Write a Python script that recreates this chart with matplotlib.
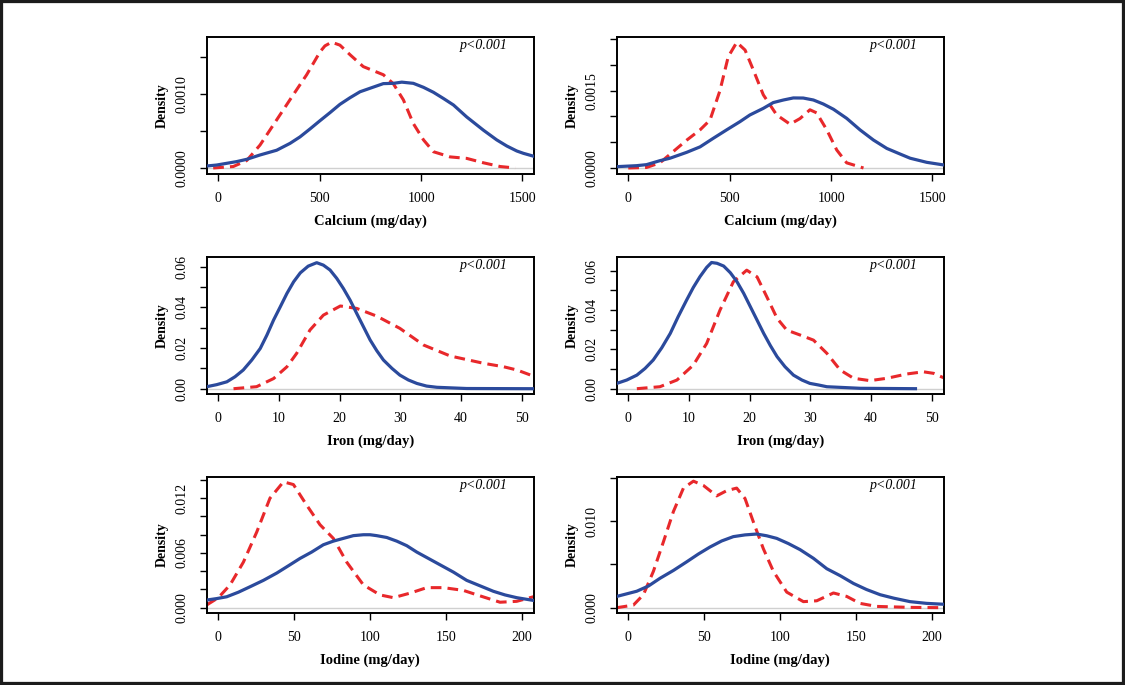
import numpy as np
import matplotlib.pyplot as plt
from matplotlib.patches import Rectangle

plt.rcParams['font.family'] = ['Liberation Serif', 'DejaVu Serif']

BLUE = '#2b4a9c'
RED = '#e8282b'

# Calcium, left panel
ca1_blue_x = [-57, -8, 41, 90, 140, 206, 288, 354, 403, 452, 502, 551, 600, 650, 699, 748, 814,
              864, 905, 962, 1012, 1061, 1110, 1160, 1225, 1308, 1373, 1423, 1472, 1505, 1554]
ca1_blue_y = [0.000027, 0.00004, 0.000063, 0.000086, 0.000117, 0.000176, 0.00024, 0.000333,
              0.00042, 0.000527, 0.00064, 0.000748, 0.00086, 0.00095, 0.00103, 0.001077, 0.00114,
              0.001144, 0.00116, 0.001144, 0.00109, 0.001023, 0.00094, 0.000851, 0.00069,
              0.00051, 0.00038, 0.000297, 0.00023, 0.000198, 0.00016]
ca1_red_x = [-25, 74, 140, 206, 288, 370, 436, 502, 526, 559, 600, 650, 715, 814, 863, 913, 962,
             1012, 1061, 1143, 1225, 1308, 1390, 1464]
ca1_red_y = [0.0, 0.00002, 0.0001, 0.00031, 0.00065, 0.00099, 0.00126, 0.00157, 0.00165, 0.0017,
             0.00166, 0.00153, 0.00137, 0.00126, 0.00114, 0.00092, 0.0006, 0.00038, 0.00022,
             0.00015, 0.00013, 0.00007, 0.00002, 0.0]

# Calcium, right panel
ca2_blue_x = [-57, 41, 90, 156, 206, 288, 354, 419, 485, 551, 600, 666, 715, 765, 814, 863, 913,
              962, 1012, 1077, 1143, 1209, 1275, 1340, 1390, 1472, 1554]
ca2_blue_y = [0.000026, 0.000045, 0.000065, 0.000142, 0.00019, 0.000304, 0.00041, 0.000576,
              0.00074, 0.0009, 0.00103, 0.001158, 0.00127, 0.00132, 0.00136, 0.001358, 0.00132,
              0.001242, 0.00114, 0.000964, 0.00074, 0.000543, 0.00038, 0.000272, 0.00019,
              0.00011, 0.00006]
ca2_red_x = [0, 90, 156, 222, 288, 354, 403, 452, 493, 535, 576, 617, 666, 732, 798, 847, 896,
             929, 979, 1028, 1077, 1160]
ca2_red_y = [0.0, 0.00001, 0.0001, 0.00032, 0.00054, 0.00074, 0.00093, 0.0015, 0.00216, 0.00244,
             0.00229, 0.0019, 0.00142, 0.00103, 0.00085, 0.00096, 0.00113, 0.00107, 0.00074,
             0.00035, 0.0001, 0.0]

# Iron, left panel
fe1_blue_x = [-1.9, -0.27, 1.4, 2.75, 4.1, 5.5, 6.9, 8.0, 9.1, 10.2, 11.3, 12.4, 13.5, 14.8, 16.2,
              17.3, 18.4, 19.5, 20.6, 21.7, 22.8, 23.9, 25.0, 26.1, 27.2, 28.6, 29.9, 31.3, 32.7,
              34.3, 36.0, 40.9, 51.9]
fe1_blue_y = [0.001, 0.002, 0.0034, 0.0059, 0.0092, 0.0141, 0.0198, 0.0264, 0.0338, 0.0403,
              0.0469, 0.0526, 0.057, 0.0603, 0.062, 0.0608, 0.0584, 0.0543, 0.0493, 0.0436, 0.037,
              0.0305, 0.024, 0.0187, 0.0141, 0.01, 0.0067, 0.0043, 0.0026, 0.0013, 0.0007,
              0.0001, 0.0]
fe1_red_x = [2.5, 6.3, 9.1, 11.3, 12.9, 15.1, 17.3, 20.1, 22.8, 26.1, 29.9, 33.8, 38.2, 43.7,
             47.0, 49.2, 51.9]
fe1_red_y = [0.0, 0.001, 0.005, 0.0108, 0.0174, 0.0289, 0.0362, 0.0407, 0.0395, 0.0357, 0.0297,
             0.0215, 0.0161, 0.0125, 0.0108, 0.0092, 0.0062]

# Iron, right panel
fe2_blue_x = [-1.9, -0.27, 1.4, 2.75, 4.1, 5.5, 6.9, 8.2, 9.6, 10.7, 11.8, 12.9, 13.7, 14.6, 15.7,
              16.8, 17.9, 19.0, 20.1, 21.2, 22.3, 23.4, 24.5, 25.8, 27.2, 28.6, 29.9, 31.3, 32.7,
              38.2, 47.3]
fe2_blue_y = [0.0027, 0.0044, 0.0069, 0.0103, 0.0146, 0.0208, 0.0281, 0.0366, 0.0451, 0.0515,
              0.057, 0.0617, 0.0642, 0.0638, 0.0624, 0.059, 0.0544, 0.0485, 0.0417, 0.0349,
              0.0281, 0.0219, 0.0163, 0.0112, 0.0069, 0.0044, 0.0027, 0.0019, 0.001, 0.0002, 0.0]
fe2_red_x = [1.4, 5.2, 8.0, 10.7, 12.9, 15.1, 17.3, 19.5, 21.2, 22.8, 24.5, 26.1, 28.3, 30.5,
             32.7, 34.9, 37.1, 39.8, 42.6, 45.9, 48.6, 50.3, 51.9]
fe2_red_y = [0.0, 0.001, 0.0044, 0.012, 0.023, 0.04, 0.0544, 0.0603, 0.0569, 0.0468, 0.0358,
             0.0298, 0.0273, 0.0247, 0.018, 0.0095, 0.0053, 0.0041, 0.0053, 0.0075, 0.0086,
             0.0078, 0.0056]

# Iodine, left panel
io1_blue_x = [-7.7, -1.1, 5.5, 13.2, 20.9, 29.7, 38.5, 46.2, 53.8, 61.5, 69.2, 75.8, 82.4, 89.0,
              95.6, 100.0, 104.4, 111.0, 117.6, 124.2, 130.8, 138.5, 146.2, 155.0, 163.7, 172.5,
              181.3, 189.0, 196.7, 207.7]
io1_blue_y = [0.00084, 0.001, 0.0012, 0.0017, 0.0023, 0.003, 0.0038, 0.0046, 0.0054, 0.0061,
              0.0069, 0.0073, 0.0076, 0.0079, 0.008, 0.008, 0.0079, 0.0077, 0.0073, 0.0068,
              0.0061, 0.0054, 0.0047, 0.0039, 0.003, 0.0024, 0.0018, 0.0014, 0.0011, 0.0008]
io1_red_x = [-7.7, 0, 7.7, 16.5, 25.3, 34.0, 42.9, 49.5, 58.0, 67.0, 75.8, 84.6, 95.6, 106.6,
             115.4, 126.4, 137.4, 148.4, 161.5, 172.5, 185.7, 196.7, 207.7]
io1_red_y = [0.0003, 0.0011, 0.0025, 0.005, 0.0083, 0.012, 0.0138, 0.0135, 0.0113, 0.0091, 0.0076,
             0.005, 0.0025, 0.0014, 0.0011, 0.0016, 0.0022, 0.0022, 0.0019, 0.0013, 0.0006,
             0.0007, 0.0012]

# Iodine, right panel
io2_blue_x = [-7.7, -1.1, 5.5, 13.2, 20.9, 29.7, 38.5, 46.2, 53.8, 61.5, 69.2, 76.9, 84.6, 91.2,
              97.8, 105.5, 113.2, 122.0, 130.8, 139.6, 148.4, 157.0, 166.0, 175.0, 185.7, 196.7,
              207.7]
io2_blue_y = [0.0013, 0.0016, 0.0019, 0.0025, 0.0034, 0.0043, 0.0053, 0.0062, 0.007, 0.0077,
              0.0082, 0.0084, 0.0085, 0.0083, 0.008, 0.0074, 0.0067, 0.0057, 0.0045, 0.0037,
              0.0028, 0.0021, 0.0015, 0.0011, 0.0007, 0.0005, 0.0004]
io2_red_x = [-7.7, 3.3, 9.9, 16.5, 23.1, 29.7, 36.3, 42.9, 49.5, 58.2, 64.8, 71.4, 76.9, 82.4,
             89.0, 95.6, 104.4, 115.4, 124.2, 135.2, 144.0, 152.7, 163.7, 185.7, 207.7]
io2_red_y = [0.0, 0.0003, 0.0015, 0.0042, 0.0076, 0.0111, 0.0138, 0.0146, 0.0141, 0.0129, 0.0135,
             0.0138, 0.0126, 0.0099, 0.0068, 0.0042, 0.0018, 0.0007, 0.0008, 0.0017, 0.0013,
             0.0005, 0.00015, 0.00004, 0.0]

panels = [
    # (blue, red, xlabel, xlim, xticks, ylim, yticks, labelled yticks)
    ((ca1_blue_x, ca1_blue_y), (ca1_red_x, ca1_red_y), 'Calcium (mg/day)', (-57, 1557),
     [0, 500, 1000, 1500], (-0.0000811, 0.00177), np.arange(0, 0.00151, 0.0005),
     {0: '0.0000', 2: '0.0010'}),
    ((ca2_blue_x, ca2_blue_y), (ca2_red_x, ca2_red_y), 'Calcium (mg/day)', (-57, 1557),
     [0, 500, 1000, 1500], (-0.0001165, 0.002543), np.arange(0, 0.00251, 0.0005),
     {0: '0.0000', 3: '0.0015'}),
    ((fe1_blue_x, fe1_blue_y), (fe1_red_x, fe1_red_y), 'Iron (mg/day)', (-1.92, 52.0),
     [0, 10, 20, 30, 40, 50], (-0.0026, 0.0648), np.arange(0, 0.0601, 0.01),
     {0: '0.00', 2: '0.02', 4: '0.04', 6: '0.06'}),
    ((fe2_blue_x, fe2_blue_y), (fe2_red_x, fe2_red_y), 'Iron (mg/day)', (-1.92, 52.0),
     [0, 10, 20, 30, 40, 50], (-0.0027, 0.067), np.arange(0, 0.0601, 0.01),
     {0: '0.00', 2: '0.02', 4: '0.04', 6: '0.06'}),
    ((io1_blue_x, io1_blue_y), (io1_red_x, io1_red_y), 'Iodine (mg/day)', (-7.7, 208.1),
     [0, 50, 100, 150, 200], (-0.00058, 0.01433), np.arange(0, 0.01401, 0.002),
     {0: '0.000', 3: '0.006', 6: '0.012'}),
    ((io2_blue_x, io2_blue_y), (io2_red_x, io2_red_y), 'Iodine (mg/day)', (-7.7, 208.1),
     [0, 50, 100, 150, 200], (-0.00061, 0.01508), np.arange(0, 0.01501, 0.005),
     {0: '0.000', 2: '0.010'}),
]

W, H = 1125, 685
fig = plt.figure(figsize=(W / 100, H / 100), dpi=100)

lefts = [206.7, 616.7]
tops = [37, 257, 477]
bottoms = [174, 394, 613]
aw = 327.3

for i, (blue, red, xlab, xlim, xticks, ylim, yticks, ylabs) in enumerate(panels):
    r, c = divmod(i, 2)
    ax = fig.add_axes([lefts[c] / W, 1 - bottoms[r] / H, aw / W, (bottoms[r] - tops[r]) / H])
    ax.axhline(0, color='#d0d0d0', lw=1, zorder=1)
    ax.plot(blue[0], blue[1], color=BLUE, lw=2.3, zorder=3, solid_joinstyle='round')
    ax.plot(red[0], red[1], color=RED, lw=2.2, ls=(0, (3.5, 2.0)), zorder=2)
    ax.set_xlim(*xlim)
    ax.set_ylim(*ylim)
    ax.set_xticks(xticks)
    ax.set_xticklabels([str(t) for t in xticks], fontsize=10)
    ax.set_yticks(yticks)
    ax.set_yticklabels([ylabs.get(k, '') for k in range(len(yticks))], fontsize=10,
                       rotation=90, va='center')
    ax.tick_params(length=5, width=1, pad=8)
    for s in ax.spines.values():
        s.set_linewidth(1.4)
    ax.set_xlabel(xlab, fontsize=10.5, fontweight='bold', labelpad=7)
    ax.set_ylabel('Density', fontsize=10, fontweight='bold', labelpad=5)
    ax.text(0.92, 0.94, 'p<0.001', transform=ax.transAxes, ha='right', va='center',
            fontsize=10, style='italic')

fig.patches.append(Rectangle((0, 0), 1, 1, transform=fig.transFigure, fill=False,
                             edgecolor='#1c1c1c', lw=4.5))

fig.savefig('out.png', dpi=100)
